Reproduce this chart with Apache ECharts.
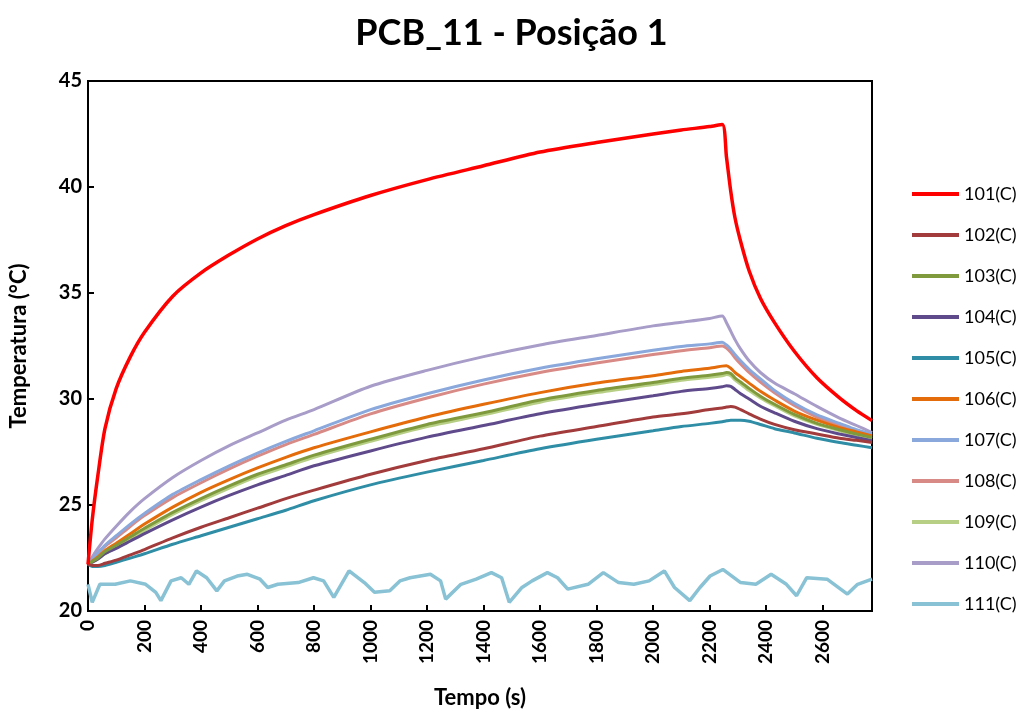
<!DOCTYPE html>
<html><head><meta charset="utf-8">
<script src="https://cdn.jsdelivr.net/npm/echarts@6/dist/echarts.min.js"></script>
<style>html,body{margin:0;padding:0;background:#fff}#c{width:1023px;height:714px}</style>
</head><body><div id="c"></div>
<script>
const titleText = "PCB_11 - Posição 1";
const xName = "Tempo (s)";
const yName = "Temperatura (°C)";
const seriesNames = ["101(C)","102(C)","103(C)","104(C)","105(C)","106(C)","107(C)","108(C)","109(C)","110(C)","111(C)"];
const colors = ["#FF0000","#A23B3B","#7F9A3D","#5F4B8B","#2F8EA6","#E46C0A","#8AA8DB","#D88A86","#B7CF85","#A89CC8","#88C2D4"];

const time = [0,15,35,60,100,150,200,300,400,500,600,700,800,1000,1200,1400,1600,1800,2000,2100,2200,2245,2260,2275,2290,2310,2340,2380,2430,2500,2580,2660,2720,2775];

const s101 = [22.2,24.3,26.4,28.6,30.5,32.0,33.15,34.85,35.95,36.8,37.55,38.18,38.7,39.6,40.35,41.0,41.65,42.1,42.5,42.69,42.85,42.95,41.4,39.8,38.55,37.43,36.05,34.75,33.6,32.25,31.0,30.05,29.45,28.98];
const s102 = [22.2,22.15,22.15,22.25,22.4,22.65,22.9,23.45,23.95,24.4,24.85,25.3,25.7,26.45,27.1,27.65,28.25,28.7,29.15,29.3,29.5,29.58,29.62,29.65,29.62,29.5,29.3,29.05,28.8,28.55,28.35,28.15,28.05,27.95];
const s103 = [22.2,22.33,22.5,22.8,23.1,23.5,23.9,24.65,25.3,25.9,26.45,26.9,27.35,28.1,28.8,29.35,29.95,30.4,30.78,30.98,31.12,31.2,31.25,31.2,31.0,30.8,30.5,30.13,29.75,29.27,28.85,28.55,28.35,28.18];
const s104 = [22.2,22.3,22.45,22.7,22.95,23.3,23.65,24.3,24.9,25.45,25.95,26.4,26.85,27.55,28.2,28.75,29.3,29.75,30.15,30.36,30.5,30.58,30.62,30.6,30.45,30.25,30.0,29.66,29.35,28.95,28.6,28.35,28.18,28.03];
const s105 = [22.2,22.1,22.1,22.15,22.3,22.5,22.7,23.15,23.55,23.95,24.35,24.75,25.2,25.95,26.55,27.1,27.65,28.1,28.5,28.7,28.85,28.93,28.97,29.0,29.0,29.0,28.95,28.8,28.6,28.4,28.15,27.95,27.82,27.7];
const s106 = [22.2,22.35,22.55,22.85,23.2,23.65,24.1,24.9,25.6,26.2,26.75,27.25,27.7,28.45,29.15,29.75,30.3,30.75,31.1,31.3,31.45,31.55,31.57,31.45,31.25,31.05,30.75,30.36,29.95,29.43,29.0,28.65,28.45,28.26];
const s107 = [22.2,22.45,22.75,23.1,23.55,24.1,24.6,25.5,26.2,26.85,27.45,28.0,28.5,29.5,30.25,30.9,31.45,31.9,32.3,32.48,32.6,32.68,32.55,32.35,32.1,31.8,31.4,30.95,30.4,29.8,29.25,28.85,28.55,28.34];
const s108 = [22.2,22.43,22.7,23.05,23.45,24.0,24.5,25.35,26.05,26.7,27.3,27.85,28.33,29.3,30.05,30.7,31.25,31.7,32.1,32.28,32.42,32.5,32.4,32.2,31.95,31.65,31.25,30.8,30.3,29.7,29.15,28.75,28.45,28.25];
const s109 = [22.2,22.3,22.45,22.7,23.0,23.4,23.8,24.55,25.2,25.8,26.35,26.8,27.25,28.0,28.7,29.25,29.85,30.3,30.68,30.88,31.02,31.1,31.15,31.1,30.9,30.7,30.4,30.05,29.68,29.2,28.8,28.5,28.3,28.14];
const s110 = [22.2,22.55,22.95,23.4,24.0,24.7,25.3,26.3,27.1,27.8,28.4,29.0,29.5,30.6,31.35,32.0,32.55,33.0,33.45,33.62,33.8,33.92,33.6,33.2,32.8,32.35,31.8,31.25,30.75,30.25,29.65,29.1,28.75,28.42];

const t111 = [0,15,42,96,150,204,240,258,294,330,357,384,420,456,483,528,564,609,636,672,744,798,834,870,924,978,1014,1068,1104,1140,1212,1248,1266,1320,1374,1428,1464,1491,1536,1572,1626,1662,1698,1770,1824,1878,1932,1986,2040,2076,2130,2166,2202,2247,2310,2364,2418,2472,2508,2544,2616,2688,2724,2775];
const s111 = [21.26,20.41,21.26,21.26,21.42,21.26,20.88,20.49,21.42,21.57,21.26,21.89,21.57,20.95,21.42,21.65,21.73,21.5,21.11,21.26,21.34,21.57,21.42,20.64,21.89,21.34,20.88,20.95,21.42,21.57,21.73,21.42,20.56,21.26,21.5,21.81,21.57,20.41,21.11,21.42,21.81,21.57,21.03,21.26,21.81,21.34,21.26,21.42,21.89,21.11,20.49,21.11,21.65,21.96,21.34,21.26,21.73,21.26,20.72,21.57,21.5,20.8,21.26,21.5];

const xTicks = {min:0, max:2775, interval:200};
const yTicks = {min:20, max:45, interval:5};

const allY = [s101,s102,s103,s104,s105,s106,s107,s108,s109,s110];
const FONT = "Lato";

const series = allY.map((arr,i)=>({
  name: seriesNames[i], type:'line', showSymbol:false, symbol:'none',
  smooth: 0.25,
  data: time.map((t,j)=>[t, arr[j]]),
  lineStyle:{color:colors[i], width: i===0?3.5:3},
  itemStyle:{color:colors[i]}, z: 10 - i
}));
series.unshift({
  name: seriesNames[10], type:'line', showSymbol:false, symbol:'none',
  data: t111.map((t,j)=>[t, s111[j]]),
  lineStyle:{color:colors[10], width:3.5}, itemStyle:{color:colors[10]}, z:1
});

const chart = echarts.init(document.getElementById('c'), null, {renderer:'canvas'});
chart.setOption({
  animation:false,
  backgroundColor:'#fff',
  title:{text:titleText, left:'center', top:10, textStyle:{fontFamily:FONT, fontSize:36, fontWeight:'bold', color:'#000'}},
  grid:{left:84, top:81, right:151, bottom:97, show:true, borderColor:'#000', borderWidth:2, containLabel:false},
  legend:{
    orient:'vertical', left:907, top:179, itemWidth:47, itemHeight:4, itemGap:21, icon:'rect',
    data: seriesNames,
    textStyle:{fontFamily:FONT, fontSize:18, lineHeight:20, color:'#000'}
  },
  xAxis:{
    type:'value', min:xTicks.min, max:xTicks.max, interval:xTicks.interval,
    name:xName, nameLocation:'middle', nameGap:76,
    nameTextStyle:{fontFamily:FONT, fontSize:22, fontWeight:'bold', color:'#000'},
    axisLine:{show:true, lineStyle:{color:'#000', width:2}},
    axisTick:{show:true, inside:true, length:6, lineStyle:{color:'#000', width:2}},
    axisLabel:{rotate:90, fontFamily:FONT, fontSize:19, fontWeight:'bold', color:'#000', margin:9, showMaxLabel:false,
      formatter: v => String(v)},
    splitLine:{show:false}
  },
  yAxis:{
    type:'value', min:yTicks.min, max:yTicks.max, interval:yTicks.interval,
    name:yName, nameLocation:'middle', nameGap:58,
    nameTextStyle:{fontFamily:FONT, fontSize:22, fontWeight:'bold', color:'#000'},
    axisLine:{show:true, lineStyle:{color:'#000', width:2}},
    axisTick:{show:true, inside:true, length:6, lineStyle:{color:'#000', width:2}},
    axisLabel:{fontFamily:FONT, fontSize:20, fontWeight:'bold', color:'#000', margin:6},
    splitLine:{show:false}
  },
  series: series
});
</script></body></html>
